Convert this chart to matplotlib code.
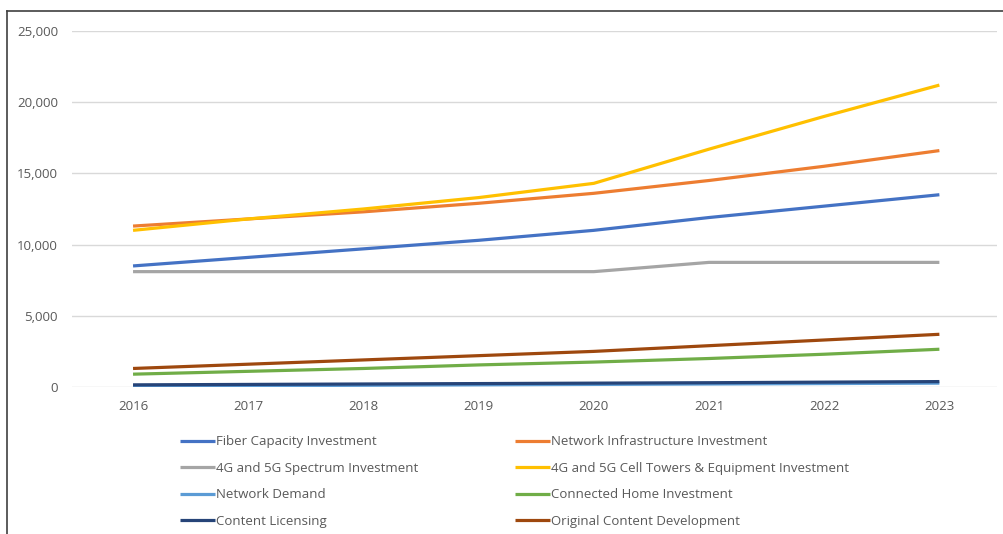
import matplotlib
matplotlib.use("Agg")
import matplotlib.pyplot as plt
from matplotlib.lines import Line2D
from matplotlib.ticker import FuncFormatter

years = [2016, 2017, 2018, 2019, 2020, 2021, 2022, 2023]
fiber = [8500, 9100, 9700, 10300, 11000, 11900, 12700, 13500]
network_infra = [11300, 11800, 12300, 12900, 13600, 14500, 15500, 16600]
spectrum = [8100, 8100, 8100, 8100, 8100, 8750, 8750, 8750]
towers = [11000, 11800, 12500, 13300, 14300, 16700, 19000, 21200]
network_demand = [60, 90, 120, 150, 180, 210, 240, 270]
connected_home = [900, 1100, 1300, 1550, 1750, 2000, 2300, 2650]
content_licensing = [150, 180, 210, 240, 270, 300, 340, 380]
original_content = [1300, 1600, 1900, 2200, 2500, 2900, 3300, 3700]

series = [
    ("Fiber Capacity Investment", fiber, "#4472C4"),
    ("Network Infrastructure Investment", network_infra, "#ED7D31"),
    ("4G and 5G Spectrum Investment", spectrum, "#A5A5A5"),
    ("4G and 5G Cell Towers & Equipment Investment", towers, "#FFC000"),
    ("Network Demand", network_demand, "#5B9BD5"),
    ("Connected Home Investment", connected_home, "#70AD47"),
    ("Content Licensing", content_licensing, "#264478"),
    ("Original Content Development", original_content, "#9E480E"),
]

plt.rcParams['font.family'] = ['Open Sans', 'DejaVu Sans']

fig = plt.figure(figsize=(10.04, 5.34), dpi=100)
ax = fig.add_axes([0.0717, 0.2753, 0.9213, 0.6667])

handles = {}
for name, vals, col in series:
    h, = ax.plot(years, vals, color=col, lw=2.3, solid_capstyle='butt', label=name)
    handles[name] = h

ax.set_xlim(2015.47, 2023.5)
ax.set_ylim(0, 25000)
ax.set_yticks([0, 5000, 10000, 15000, 20000, 25000])
ax.yaxis.set_major_formatter(FuncFormatter(lambda v, p: f"{int(v):,}"))
ax.set_xticks(years)
ax.grid(axis='y', color='#D9D9D9', lw=1)
ax.set_axisbelow(True)
for s in ax.spines.values():
    s.set_visible(False)
ax.tick_params(length=0, labelsize=9.5, labelcolor='#595959')
ax.tick_params(axis='y', pad=10)
ax.tick_params(axis='x', pad=9.5)

order = [0, 2, 4, 6, 1, 3, 5, 7]
hs = [handles[series[i][0]] for i in order]
ls = [series[i][0] for i in order]
leg = fig.legend(hs, ls, ncol=2, loc='upper left', bbox_to_anchor=(0.179, 0.185),
                 frameon=False, fontsize=9.5, handlelength=2.65, handletextpad=0.1,
                 labelspacing=1.03, columnspacing=7.3, borderpad=0, borderaxespad=0)
for t in leg.get_texts():
    t.set_color('#595959')

# chart frame (top and left edges visible)
fig.add_artist(Line2D([7/1004, 1], [1-11/534, 1-11/534], color='#404040', lw=1.2, transform=fig.transFigure))
fig.add_artist(Line2D([7/1004, 7/1004], [0, 1-11/534], color='#404040', lw=1.2, transform=fig.transFigure))

fig.savefig("out.png", dpi=100)
